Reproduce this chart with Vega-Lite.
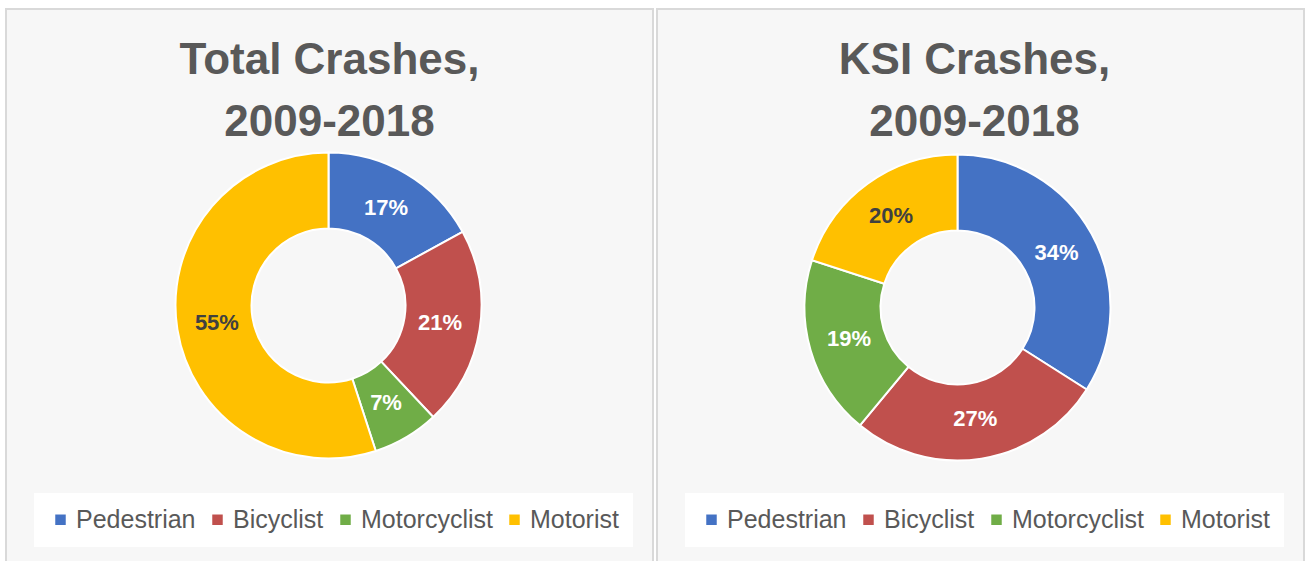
{
  "$schema": "https://vega.github.io/schema/vega-lite/v6.json",
  "padding": {"left": 5, "top": 8, "right": 0, "bottom": 0},
  "background": "white",
  "spacing": 2,
  "datasets": {
    "total": [
      {"category": "Pedestrian", "share": 0.17, "rank": 1},
      {"category": "Bicyclist", "share": 0.21, "rank": 2},
      {"category": "Motorcyclist", "share": 0.07, "rank": 3},
      {"category": "Motorist", "share": 0.55, "rank": 4}
    ],
    "ksi": [
      {"category": "Pedestrian", "share": 0.34, "rank": 1},
      {"category": "Bicyclist", "share": 0.27, "rank": 2},
      {"category": "Motorcyclist", "share": 0.19, "rank": 3},
      {"category": "Motorist", "share": 0.20, "rank": 4}
    ],
    "panel": [{"panel": "frame"}]
  },
  "hconcat": [
    {
      "width": 647,
      "height": 553,
      "title": {"text": ["Total Crashes,", "2009-2018"], "baseline": "top", "offset": -137, "dx": 0},
      "layer": [
        {
          "data": {"name": "panel"},
          "mark": {"type": "rect", "fill": "#f7f7f7", "stroke": "#d9d9d9", "strokeWidth": 2},
          "encoding": {}
        },
        {
          "data": {"name": "total"},
          "mark": {"type": "arc", "innerRadius": 77, "outerRadius": 153, "stroke": "white", "strokeWidth": 2, "xOffset": -1, "yOffset": 20},
          "encoding": {
            "theta": {"field": "share", "type": "quantitative", "stack": true},
            "order": {"field": "rank", "type": "ordinal"},
            "color": {
              "field": "category", "type": "nominal",
              "scale": {"domain": ["Pedestrian", "Bicyclist", "Motorcyclist", "Motorist"], "range": ["#4472C4", "#C0504D", "#70AD47", "#FFC000"]},
              "legend": {"orient": "none", "legendX": 28, "legendY": 484, "direction": "horizontal", "title": null}
            }
          }
        },
        {
          "data": {"name": "total"},
          "mark": {"type": "text", "radius": 113, "font": "Liberation Sans", "fontWeight": "bold", "fontSize": 22, "dx": -1, "dy": 20},
          "encoding": {
            "theta": {"field": "share", "type": "quantitative", "stack": true},
            "order": {"field": "rank", "type": "ordinal"},
            "text": {"field": "share", "type": "quantitative", "format": ".0%"},
            "color": {"condition": {"test": "datum.category === 'Motorist'", "value": "#404040"}, "value": "white"}
          }
        }
      ]
    },
    {
      "width": 647,
      "height": 553,
      "title": {"text": ["KSI Crashes,", "2009-2018"], "baseline": "top", "offset": -137, "dx": -6},
      "layer": [
        {
          "data": {"name": "panel"},
          "mark": {"type": "rect", "fill": "#f7f7f7", "stroke": "#d9d9d9", "strokeWidth": 2},
          "encoding": {}
        },
        {
          "data": {"name": "ksi"},
          "mark": {"type": "arc", "innerRadius": 77, "outerRadius": 153, "stroke": "white", "strokeWidth": 2, "xOffset": -23, "yOffset": 22},
          "encoding": {
            "theta": {"field": "share", "type": "quantitative", "stack": true},
            "order": {"field": "rank", "type": "ordinal"},
            "color": {
              "field": "category", "type": "nominal",
              "scale": {"domain": ["Pedestrian", "Bicyclist", "Motorcyclist", "Motorist"], "range": ["#4472C4", "#C0504D", "#70AD47", "#FFC000"]},
              "legend": {"orient": "none", "legendX": 28, "legendY": 484, "direction": "horizontal", "title": null}
            }
          }
        },
        {
          "data": {"name": "ksi"},
          "mark": {"type": "text", "radius": 113, "font": "Liberation Sans", "fontWeight": "bold", "fontSize": 22, "dx": -23, "dy": 22},
          "encoding": {
            "theta": {"field": "share", "type": "quantitative", "stack": true},
            "order": {"field": "rank", "type": "ordinal"},
            "text": {"field": "share", "type": "quantitative", "format": ".0%"},
            "color": {"condition": {"test": "datum.category === 'Motorist'", "value": "#404040"}, "value": "white"}
          }
        }
      ]
    }
  ],
  "resolve": {"scale": {"color": "independent", "theta": "independent"}, "legend": {"color": "independent"}},
  "config": {
    "view": {"stroke": null},
    "title": {"font": "Liberation Sans", "fontWeight": "bold", "fontSize": 44, "color": "#595959", "lineHeight": 62, "anchor": "middle", "frame": "group"},
    "legend": {
      "symbolType": "square", "symbolSize": 110, "symbolStrokeWidth": 0,
      "labelFont": "Liberation Sans", "labelFontSize": 25, "labelColor": "#595959",
      "labelOffset": 3, "columnPadding": 9, "fillColor": "white", "padding": 14,
      "labelLimit": 300
    }
  }
}
